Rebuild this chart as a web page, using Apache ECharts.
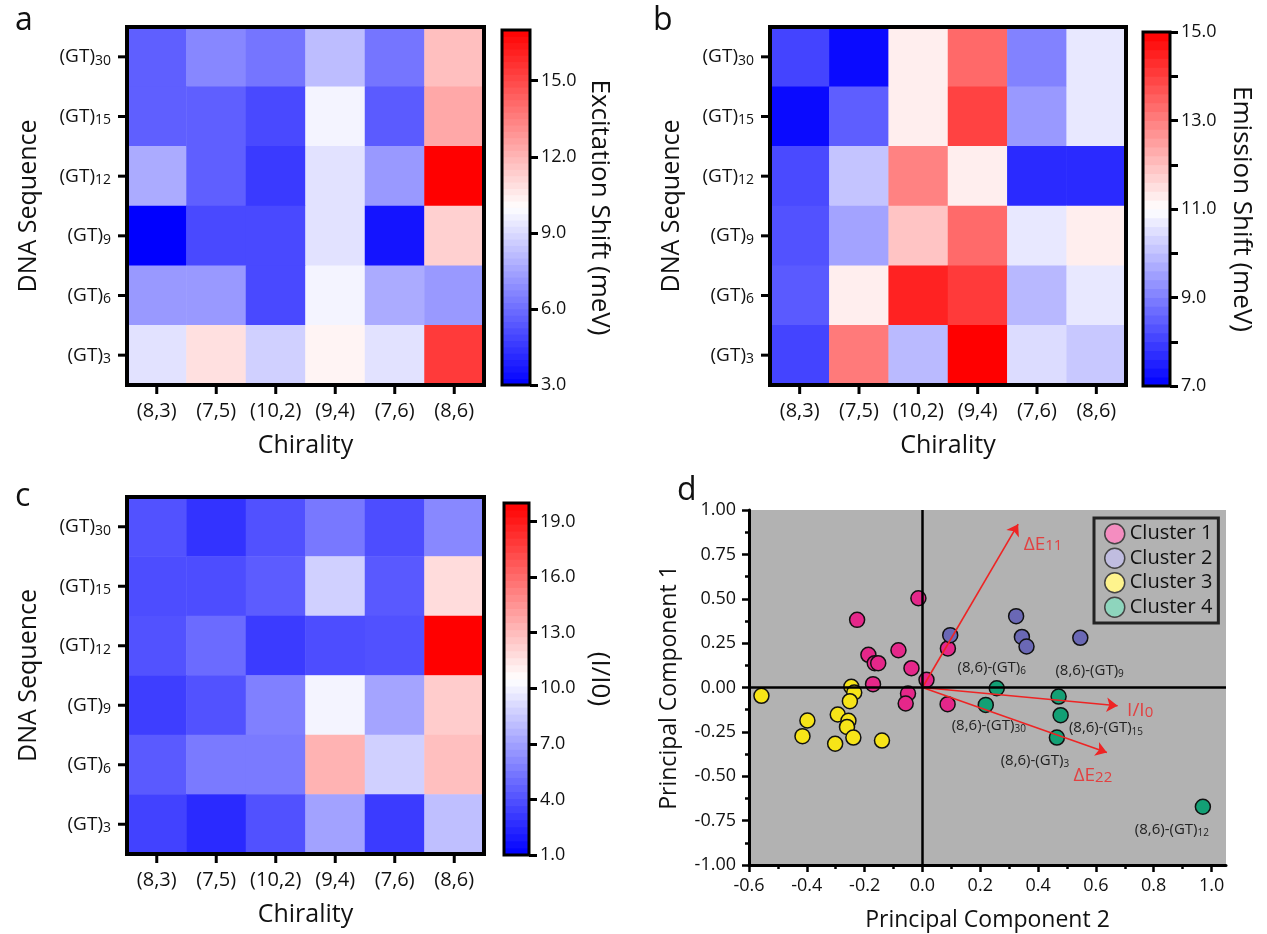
<!DOCTYPE html>
<html><head><meta charset="utf-8">
<script src="https://cdn.jsdelivr.net/npm/echarts@6/dist/echarts.min.js"></script>
<style>html,body{margin:0;padding:0;background:#fff}#chart{width:1267px;height:934px}</style>
</head><body><div id="chart"></div>
<script>
// ---------------- data ----------------
const chiralities = ['(8,3)','(7,5)','(10,2)','(9,4)','(7,6)','(8,6)'];
const sequenceN = ['30','15','12','9','6','3']; // (GT)n, top to bottom
// rows top -> bottom, columns follow chiralities
const excitationShift = [
  [5.6, 6.7, 6.2, 8.2, 6.2, 11.75],
  [5.6, 5.6, 5.0, 9.7, 5.5, 12.4],
  [7.7, 5.6, 4.6, 9.2, 7.2, 17.0],
  [3.0, 5.0, 5.0, 9.2, 3.55, 11.3],
  [7.2, 7.2, 5.0, 9.7, 7.7, 7.2],
  [9.2, 10.85, 8.7, 10.3, 9.2, 15.4]
];
const emissionShift = [
  [8.07, 7.15, 11.27, 13.36, 9.04, 10.64],
  [7.15, 8.48, 11.27, 13.96, 9.4, 10.64],
  [8.16, 10.08, 12.96, 11.27, 7.66, 7.66],
  [8.29, 9.55, 11.92, 13.34, 10.64, 11.27],
  [8.41, 11.27, 14.47, 14.09, 9.89, 10.64],
  [8.07, 13.09, 9.92, 15.0, 10.45, 10.14]
];
const intensityRatio = [
  [4.04, 2.9, 4.0, 5.47, 3.85, 6.05],
  [3.85, 3.85, 4.42, 8.75, 4.3, 11.8],
  [4.04, 5.0, 3.2, 3.85, 4.0, 20.0],
  [3.3, 4.04, 5.75, 10.1, 7.1, 12.4],
  [4.35, 5.55, 5.55, 13.35, 8.75, 12.9],
  [3.45, 2.57, 4.0, 7.05, 3.2, 8.1]
];
const excitationRange = [3, 17];
const emissionRange = [7, 15];
const intensityRange = [1, 20];
const excitationTicks = [3, 6, 9, 12, 15];
const emissionTicks = [7, 8, 9, 10, 11, 12, 13, 14, 15];
const emissionTickLabels = [7, 9, 11, 13, 15];
const intensityTicks = [1, 4, 7, 10, 13, 16, 19];

// PCA scores [PC2, PC1]
const cluster1 = [[-0.014,0.503],[-0.226,0.381],[-0.083,0.210],[-0.187,0.184],[-0.165,0.137],[-0.153,0.137],[-0.038,0.109],[-0.171,0.019],[-0.050,-0.034],[-0.058,-0.090],[0.014,0.043],[0.088,0.220],[0.087,-0.094]];
const cluster2 = [[0.096,0.295],[0.324,0.402],[0.344,0.285],[0.360,0.231],[0.546,0.280]];
const cluster3 = [[-0.557,-0.047],[-0.246,0.004],[-0.236,-0.028],[-0.251,-0.077],[-0.293,-0.152],[-0.398,-0.186],[-0.256,-0.188],[-0.261,-0.222],[-0.415,-0.274],[-0.239,-0.282],[-0.302,-0.317],[-0.140,-0.299]];
const cluster4 = [[0.257,-0.004],[0.219,-0.098],[0.471,-0.051],[0.478,-0.156],[0.465,-0.282],[0.970,-0.672]];
const cluster4Names = ['6','30','9','15','3','12'];
const loadings = [[0.331,0.920],[0.675,-0.103],[0.638,-0.366]];
const loadingNames = ['ΔE{s|11}','I/I{s|0}','ΔE{s|22}'];
const pc2Ticks = [-0.6,-0.4,-0.2,0,0.2,0.4,0.6,0.8,1.0];
const pc2Minor = [-0.5,-0.3,-0.1,0.1,0.3,0.5,0.7,0.9];
const pc1Minor = [-0.875,-0.625,-0.375,-0.125,0.125,0.375,0.625,0.875];

// ---------------- styles ----------------
const FONT = 'Open Sans';
const TXT = '#111';
const BLUE_WHITE_RED = ['#0000ff', '#ffffff', '#ff0000'];
const clusterColors = ['#e5278a', '#6a68b5', '#f7e418', '#13a075'];
const legendColors = ['#f48dc0', '#c0bde0', '#fef38d', '#8ed5bd'];
const labelPlace = [
  {position:'top', offset:[-5,0]},
  {position:'bottom', offset:[3,0]},
  {position:'top', offset:[31,-5]},
  {position:'right', offset:[-4,13]},
  {position:'bottom', offset:[-22,2]},
  {position:'bottom', offset:[-31,2]}
];
const loadingPlace = [
  {position:'right', offset:[0,20]},
  {position:'right', offset:[4,5]},
  {position:'bottom', offset:[-14,8]}
];

function cmap(v, min, max) {
  let t = (v - min) / (max - min);
  t = Math.max(0, Math.min(1, t));
  let r, g, b;
  if (t < 0.5) { const s = t / 0.5; r = 255 * s; g = 255 * s; b = 255; }
  else { const s = (t - 0.5) / 0.5; r = 255; g = 255 * (1 - s); b = 255 * (1 - s); }
  return 'rgb(' + Math.round(r) + ',' + Math.round(g) + ',' + Math.round(b) + ')';
}

function heatData(matrix) {
  const out = [];
  matrix.forEach((row, r) => row.forEach((v, c) => out.push([c, r, v])));
  return out;
}

const panels = [
  {grid:{left:127, top:27, width:357, height:358}, cb:{left:502, top:30, width:28, height:355},
   data:excitationShift, range:excitationRange, ticks:excitationTicks, labels:excitationTicks, steps:56, name:'Excitation Shift (meV)', gap:56},
  {grid:{left:770, top:27, width:356, height:358}, cb:{left:1143, top:32, width:27, height:354},
   data:emissionShift, range:emissionRange, ticks:emissionTicks, labels:emissionTickLabels, steps:40, name:'Emission Shift (meV)', gap:58},
  {grid:{left:127, top:497, width:357, height:357}, cb:{left:504, top:503, width:25, height:352},
   data:intensityRatio, range:intensityRange, ticks:intensityTicks, labels:intensityTicks, steps:50, name:'(I/I0)', gap:57}
];

const grids = [], xAxes = [], yAxes = [], series = [], visualMaps = [];
const subRich = { s: { fontSize: 14, fontFamily: FONT, color: TXT, padding: [8, 0, 0, 0] } };
const frameLine = {show:true, onZero:false, lineStyle:{color:'#000', width:4}};
const colIdx = chiralities.map((_, k) => k);
const rowIdx = sequenceN.map((_, k) => k);
const tickStyle = {color:'#000', width:3};
const TICK_LEN = 9;

function tickSeries(xi, yi, data, enc) {
  return {type:'custom', xAxisIndex:xi, yAxisIndex:yi, z:20, silent:true, data:data, encode:enc,
    renderItem: function(params, api) {
      const a = api.coord([api.value(0), api.value(1)]);
      const b = api.coord([api.value(2), api.value(3)]);
      return {type:'line', shape:{x1:a[0], y1:a[1], x2:b[0], y2:b[1]}, style:{stroke:'#000', lineWidth:3}};
    }};
}

panels.forEach((p, i) => {
  const gi = grids.length;
  const g = p.grid;
  grids.push(Object.assign({show:true, borderColor:'#000', borderWidth:4, backgroundColor:'transparent', z:5}, g));
  grids.push(Object.assign({show:true, borderColor:'#000', borderWidth:3, backgroundColor:'transparent', z:5}, p.cb));
  // thin strips holding the tick marks (below and left of the heatmap)
  grids.push({left:g.left, top:g.top + g.height + 2, width:g.width, height:TICK_LEN - 2, show:false});
  grids.push({left:g.left - TICK_LEN, top:g.top, width:TICK_LEN - 2, height:g.height, show:false});
  const ax = xAxes.length;
  xAxes.push({gridIndex:gi, type:'category', data:chiralities, position:'bottom', z:6,
    axisLine:frameLine, splitLine:{show:false}, axisTick:{show:false},
    axisLabel:{fontSize:20, fontFamily:FONT, color:TXT, margin:16, interval:0},
    name:'Chirality', nameLocation:'middle', nameGap:48,
    nameTextStyle:{fontSize:25, fontFamily:FONT, color:TXT}});
  yAxes.push({gridIndex:gi, type:'category', data:sequenceN, inverse:true, z:6,
    axisLine:frameLine, splitLine:{show:false}, axisTick:{show:false},
    axisLabel:{fontSize:19, fontFamily:FONT, color:TXT, margin:16, interval:0,
      formatter: n => '(GT){s|' + n + '}', rich: subRich},
    name:'DNA Sequence', nameLocation:'middle', nameGap:86, nameRotate:90,
    nameTextStyle:{fontSize:25, fontFamily:FONT, color:TXT}});
  xAxes.push({gridIndex:gi+1, type:'value', min:0, max:1, show:false});
  yAxes.push({gridIndex:gi+1, type:'value', min:p.range[0], max:p.range[1], position:'right', z:6,
    axisLine:{show:false, onZero:false}, splitLine:{show:false},
    axisTick:{show:true, length:8, lineStyle:tickStyle, customValues:p.ticks},
    axisLabel:{fontSize:18, fontFamily:FONT, color:TXT, margin:11, customValues:p.labels,
      formatter: v => Number(v).toFixed(1)},
    name:p.name, nameLocation:'middle', nameRotate:-90, nameGap:p.gap,
    nameTextStyle:{fontSize:26, fontFamily:FONT, color:TXT}});
  // strip axes (value scales spanning the same cells)
  xAxes.push({gridIndex:gi+2, type:'value', min:-0.5, max:colIdx.length - 0.5, show:false});
  yAxes.push({gridIndex:gi+2, type:'value', min:0, max:1, show:false});
  xAxes.push({gridIndex:gi+3, type:'value', min:0, max:1, show:false});
  yAxes.push({gridIndex:gi+3, type:'value', min:-0.5, max:rowIdx.length - 0.5, inverse:true, show:false});

  const si = series.length;
  series.push({type:'heatmap', xAxisIndex:ax, yAxisIndex:ax, data:heatData(p.data),
    emphasis:{disabled:true}, itemStyle:{borderWidth:0}});
  visualMaps.push({type:'continuous', show:false, seriesIndex:si, min:p.range[0], max:p.range[1],
    inRange:{color:BLUE_WHITE_RED}});
  series.push(tickSeries(ax+2, ax+2, colIdx.map(k => [k, 0, k, 1]), {x:[0,2], y:[1,3]}));
  series.push(tickSeries(ax+3, ax+3, rowIdx.map(r => [0, r, 1, r]), {x:[0,2], y:[1,3]}));
  const bands = [];
  const step = (p.range[1] - p.range[0]) / p.steps;
  for (let k = 0; k < p.steps; k++) bands.push([p.range[0] + k*step, p.range[0] + (k+1)*step]);
  const rmin = p.range[0], rmax = p.range[1];
  series.push({type:'custom', xAxisIndex:ax+1, yAxisIndex:ax+1, data:bands, silent:true,
    encode:{x:-1, y:[0,1]},
    renderItem: function(params, api) {
      const lo = api.value(0), hi = api.value(1);
      const a = api.coord([0, lo]), b = api.coord([1, hi]);
      return {type:'rect', shape:{x:a[0], y:b[1]-0.4, width:b[0]-a[0], height:a[1]-b[1]+0.8},
        style:{fill:cmap((lo+hi)/2, rmin, rmax)}};
    }});
});

// ---------- panel d ----------
const gd = grids.length;
grids.push({left:749, top:510, width:477, height:355, show:true, backgroundColor:'#b2b2b2', borderWidth:0});
xAxes.push({gridIndex:gd, type:'value', min:-0.6, max:1.05, position:'bottom',
  axisLine:{show:true, onZero:false, lineStyle:{color:'#000', width:3}}, splitLine:{show:false},
  axisTick:{show:true, length:7, lineStyle:{color:'#000', width:2.5}, customValues:pc2Ticks},
  axisLabel:{fontSize:18, fontFamily:FONT, color:TXT, margin:12, customValues:pc2Ticks,
    formatter: v => Number(v).toFixed(1)},
  name:'Principal Component 2', nameLocation:'middle', nameGap:44,
  nameTextStyle:{fontSize:23, fontFamily:FONT, color:TXT}});
xAxes.push({gridIndex:gd, type:'value', min:-0.6, max:1.05, position:'bottom',
  axisLine:{show:false, onZero:false}, splitLine:{show:false}, axisLabel:{show:false},
  axisTick:{show:true, length:4, lineStyle:{color:'#000', width:2.5}, customValues:pc2Minor}});
yAxes.push({gridIndex:gd, type:'value', min:-1, max:1, interval:0.25, position:'left',
  axisLine:{show:true, onZero:false, lineStyle:{color:'#000', width:3}}, splitLine:{show:false},
  axisTick:{show:true, length:7, lineStyle:{color:'#000', width:2.5}},
  axisLabel:{fontSize:18, fontFamily:FONT, color:TXT, margin:13, formatter: v => Number(v).toFixed(2)},
  name:'Principal Component 1', nameLocation:'middle', nameGap:68, nameRotate:90,
  nameTextStyle:{fontSize:23, fontFamily:FONT, color:TXT}});
yAxes.push({gridIndex:gd, type:'value', min:-1, max:1, position:'left',
  axisLine:{show:false, onZero:false}, splitLine:{show:false}, axisLabel:{show:false},
  axisTick:{show:true, length:4, lineStyle:{color:'#000', width:2.5}, customValues:pc1Minor}});

const xd = xAxes.length - 2, yd = yAxes.length - 2;
// zero lines
series.push({type:'scatter', xAxisIndex:xd, yAxisIndex:yd, data:[], z:1, silent:true,
  markLine:{silent:true, symbol:'none', label:{show:false}, animation:false,
    lineStyle:{color:'#000', width:2.5, type:'solid'}, data:[{xAxis:0},{yAxis:0}]}});

const clusters = [cluster1, cluster2, cluster3, cluster4];
clusters.forEach((c, i) => {
  const s = {type:'scatter', name:'Cluster ' + (i+1), xAxisIndex:xd, yAxisIndex:yd, z:3,
    symbol:'circle', symbolSize:15,
    itemStyle:{color:clusterColors[i], borderColor:'#111', borderWidth:1.5, opacity:1},
    emphasis:{disabled:true}};
  if (i === 3) {
    s.data = c.map((pt, k) => ({value:pt, label:{show:true, position:labelPlace[k].position, offset:labelPlace[k].offset,
      distance:4, formatter:'(8,6)-(GT){s|' + cluster4Names[k] + '}', fontSize:15, fontFamily:FONT, color:'#222',
      rich:{s:{fontSize:10, fontFamily:FONT, color:'#222', padding:[7,0,0,0]}}}}));
  } else s.data = c;
  series.push(s);
});
// arrows
series.push({type:'lines', coordinateSystem:'cartesian2d', xAxisIndex:xd, yAxisIndex:yd, z:4,
  data: loadings.map(l => ({coords:[[0,0], l]})), symbol:['none','arrow'], symbolSize:11,
  lineStyle:{color:'#ee2424', width:1.6, opacity:1, curveness:0}, silent:true});
series.push({type:'scatter', xAxisIndex:xd, yAxisIndex:yd, z:4, symbolSize:1, silent:true,
  itemStyle:{color:'rgba(0,0,0,0)'},
  data: loadings.map((l, k) => ({value:l, label:{show:true, position:loadingPlace[k].position,
    offset:loadingPlace[k].offset, formatter:loadingNames[k], fontSize:19, fontFamily:FONT, color:'#ee2424',
    rich:{s:{fontSize:15, fontFamily:FONT, color:'#ee2424', padding:[4,0,0,0]}}}}))});

const option = {
  animation:false,
  textStyle:{fontFamily:FONT},
  title:[
    {text:'a', left:10, top:0, textStyle:{fontSize:32, fontWeight:'normal', color:TXT, fontFamily:FONT}},
    {text:'b', left:648, top:0, textStyle:{fontSize:32, fontWeight:'normal', color:TXT, fontFamily:FONT}},
    {text:'c', left:10, top:476, textStyle:{fontSize:32, fontWeight:'normal', color:TXT, fontFamily:FONT}},
    {text:'d', left:672, top:470, textStyle:{fontSize:32, fontWeight:'normal', color:TXT, fontFamily:FONT}}
  ],
  legend:{data: clusters.map((c, i) => ({name:'Cluster ' + (i+1), icon:'circle',
      itemStyle:{color:legendColors[i], borderColor:'#444', borderWidth:1.5}})),
    orient:'vertical', left:1094, top:518, itemWidth:20, itemHeight:20, itemGap:3,
    borderColor:'#222', borderWidth:3, padding:[5,6,5,10], backgroundColor:'rgba(0,0,0,0)',
    textStyle:{fontSize:20, fontFamily:FONT, color:TXT}, selectedMode:false},
  grid:grids, xAxis:xAxes, yAxis:yAxes, visualMap:visualMaps, series:series
};
const chart = echarts.init(document.getElementById('chart'));
chart.setOption(option);
</script></body></html>
